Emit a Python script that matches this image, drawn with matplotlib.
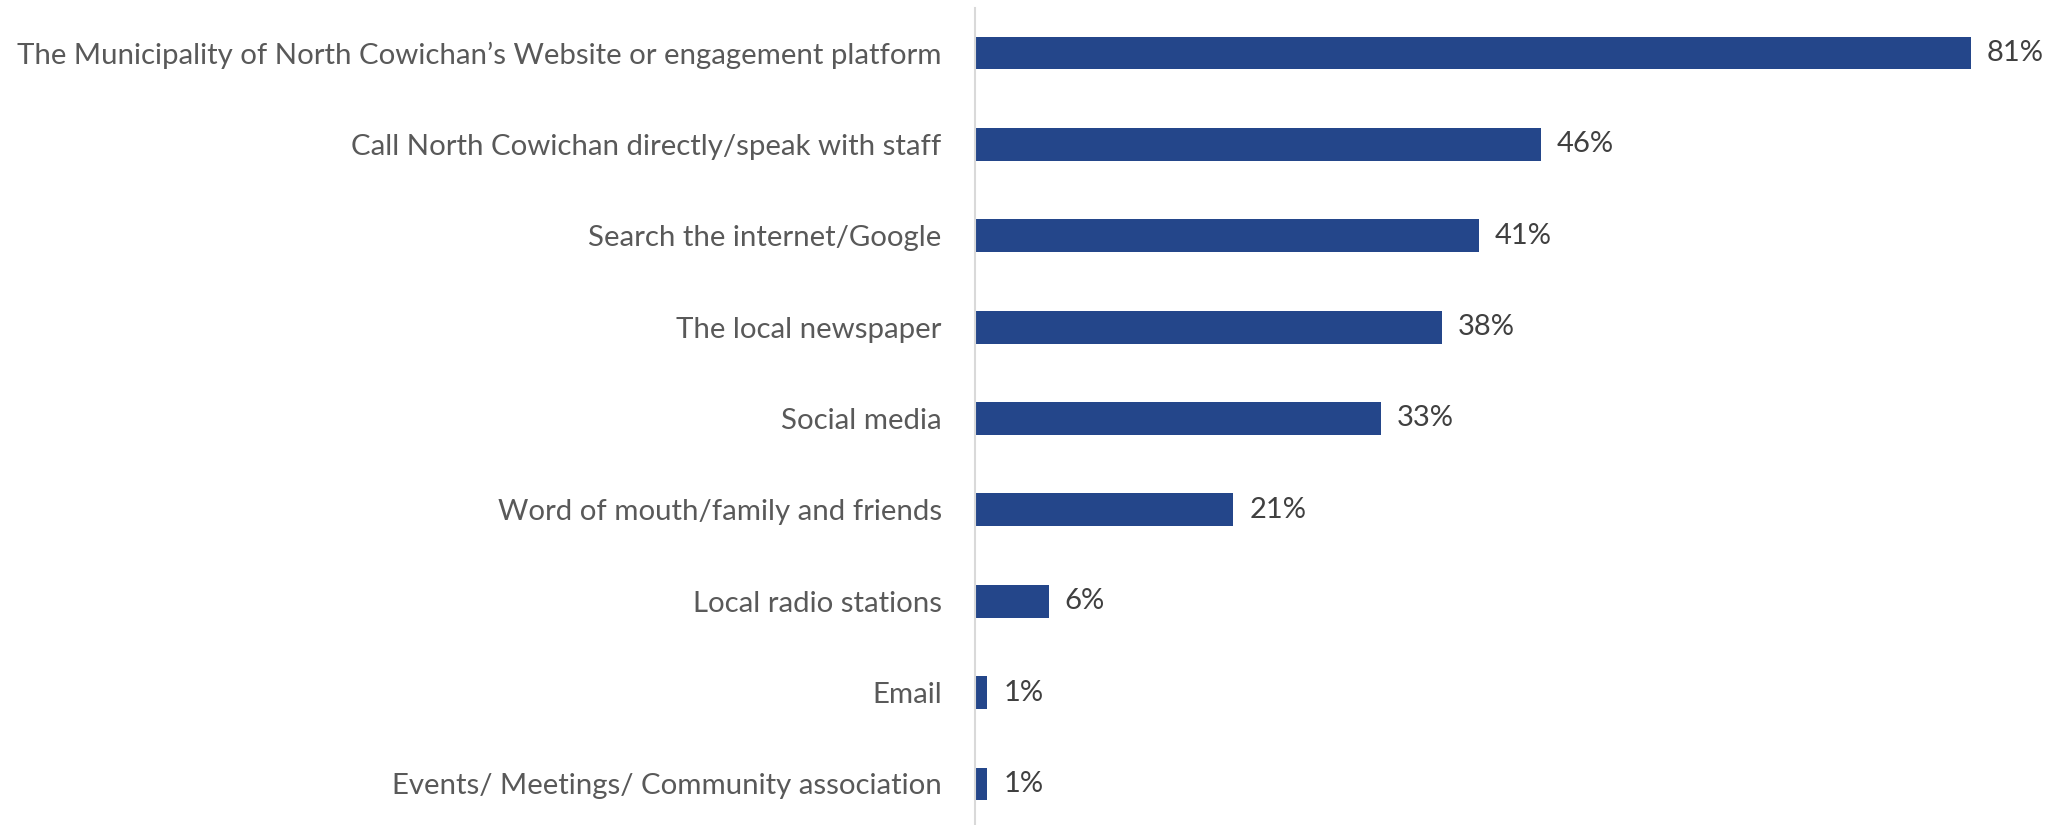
import matplotlib.pyplot as plt

# Sources of information, top to bottom
categories = [
    "The Municipality of North Cowichan\u2019s Website or engagement platform",
    "Call North Cowichan directly/speak with staff",
    "Search the internet/Google",
    "The local newspaper",
    "Social media",
    "Word of mouth/family and friends",
    "Local radio stations",
    "Email",
    "Events/ Meetings/ Community association",
]
percentages = [81, 46, 41, 38, 33, 21, 6, 1, 1]

BAR_COLOR = "#24468A"
TEXT_COLOR = "#595959"
VALUE_COLOR = "#404040"

plt.rcParams['font.family'] = ['Lato', 'DejaVu Sans']

fig = plt.figure(figsize=(20.57, 8.25), dpi=100)
ax = fig.add_axes([975 / 2057, 0, 1 - 975 / 2057, 1 - 8 / 825])

y = list(range(len(categories)))
ax.barh(y, percentages, height=0.36, color=BAR_COLOR)

for yi, v in zip(y, percentages):
    ax.text(v + 1.3, yi, f"{v}%", va="center", ha="left",
            fontsize=21, color=VALUE_COLOR)

ax.set_yticks(y)
ax.set_yticklabels(categories, fontsize=21.2, color=TEXT_COLOR)
ax.tick_params(axis="y", length=0, pad=24)
ax.set_xticks([])
ax.set_xlim(0, 88)
ax.set_ylim(8.449, -0.4925)

for side in ["top", "right", "bottom"]:
    ax.spines[side].set_visible(False)
ax.spines["left"].set_color("#D9D9D9")
ax.spines["left"].set_linewidth(1.5)

fig.savefig("out.png", dpi=100)
